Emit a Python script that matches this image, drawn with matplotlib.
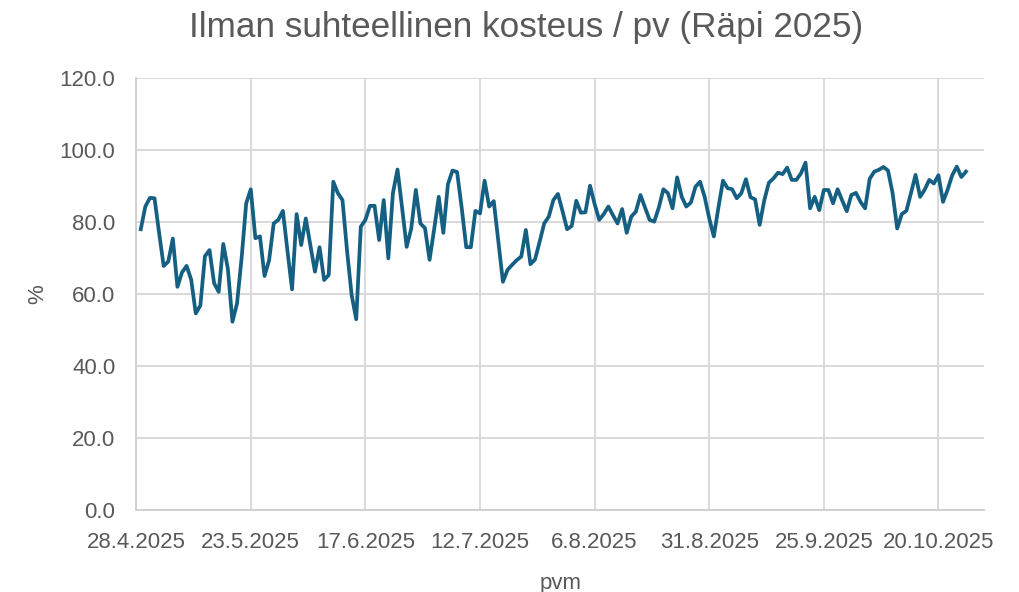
import matplotlib
matplotlib.use("Agg")
import matplotlib.pyplot as plt
import matplotlib.dates as mdates
import numpy as np
import datetime as dt

# ---- data ----
start_date = "2025-04-29"
humidity = [
    78.0, 84.3, 86.7, 86.6, 77.0, 67.8, 69.0, 75.4, 62.0, 66.0,
    67.8, 64.0, 54.6, 56.8, 70.5, 72.2, 63.0, 60.6, 73.9, 67.0,
    52.3, 57.4, 70.0, 85.2, 89.1, 75.5, 76.0, 65.0, 69.4, 79.6,
    80.6, 83.1, 72.0, 61.3, 82.2, 73.6, 81.0, 73.5, 66.2, 73.0,
    63.9, 65.3, 91.2, 88.0, 86.1, 72.0, 59.7, 53.0, 78.7, 80.6,
    84.5, 84.5, 75.0, 86.1, 69.9, 88.0, 94.6, 84.0, 73.1, 78.2,
    88.9, 79.6, 78.3, 69.5, 78.0, 87.0, 77.0, 90.5, 94.3, 93.9,
    84.0, 73.0, 73.0, 83.1, 82.4, 91.5, 84.3, 85.8, 74.5, 63.4,
    66.7, 68.1, 69.4, 70.4, 77.8, 68.3, 69.6, 74.5, 79.6, 81.5,
    86.1, 87.8, 83.0, 78.0, 78.9, 85.9, 82.6, 82.7, 90.1, 85.0,
    80.6, 82.2, 84.3, 81.9, 79.6, 83.6, 77.0, 81.5, 82.9, 87.5,
    84.0, 80.6, 80.1, 84.0, 89.1, 88.0, 83.8, 92.4, 87.0, 84.3,
    85.4, 89.8, 91.2, 87.0, 81.0, 76.0, 84.0, 91.5, 89.4, 89.1,
    86.6, 88.0, 91.9, 86.9, 86.3, 79.2, 86.0, 90.9, 92.1, 93.7,
    93.3, 95.1, 91.7, 91.7, 93.5, 96.5, 83.8, 87.0, 83.3, 88.9,
    88.9, 85.2, 89.1, 86.0, 83.0, 87.5, 88.1, 85.6, 83.8, 92.0,
    94.0, 94.5, 95.3, 94.3, 88.0, 78.2, 82.2, 83.1, 88.0, 93.1,
    87.0, 89.0, 91.7, 90.7, 93.0, 85.6, 89.0, 93.0, 95.4, 92.5,
    94.0,
]
tick_dates = ["2025-04-28", "2025-05-23", "2025-06-17", "2025-07-12",
              "2025-08-06", "2025-08-31", "2025-09-25", "2025-10-20"]
y_ticks = [0, 20, 40, 60, 80, 100, 120]
title = "Ilman suhteellinen kosteus / pv (Räpi 2025)"
x_label = "pvm"
y_label = "%"

# ---- figure ----
plt.rcParams['font.family'] = ['Liberation Sans', 'DejaVu Sans']
text_col = "#595959"
grid_col = "#d9d9d9"
line_col = "#156082"

dates = np.arange(np.datetime64(start_date), np.datetime64(start_date) + len(humidity))
dates = dates.astype("datetime64[D]").astype(dt.date)
ticks = [dt.date.fromisoformat(t) for t in tick_dates]

fig = plt.figure(figsize=(10.2, 5.92), dpi=100)
ax = fig.add_axes([0.1335, 0.1385, 0.8315, 0.7297])

ax.plot(dates, humidity, color=line_col, linewidth=2.7, solid_joinstyle="round")

x0 = dt.date.fromisoformat(tick_dates[0])
ax.set_xlim(mdates.date2num(x0), mdates.date2num(x0) + 185)
ax.set_ylim(0, 120)
ax.set_yticks(y_ticks)
ax.yaxis.set_major_formatter(matplotlib.ticker.FuncFormatter(lambda v, p: f"{v:.1f}"))
ax.set_xticks([mdates.date2num(t) for t in ticks])
ax.set_xticklabels([f"{t.day}.{t.month}.{t.year}" for t in ticks])

ax.grid(True, color=grid_col, linewidth=1.4)
ax.set_axisbelow(True)
for s in ["top", "right"]:
    ax.spines[s].set_visible(False)
for s in ["left", "bottom"]:
    ax.spines[s].set_color("#d0d0d0")
    ax.spines[s].set_linewidth(1.4)
ax.tick_params(axis="both", length=0, labelsize=16, labelcolor=text_col)
ax.tick_params(axis="y", pad=15)
ax.tick_params(axis="x", pad=16)

fig.text(0.516, 0.953, title, fontsize=25.3, color=text_col, ha="center", va="center")
ax.set_xlabel(x_label, fontsize=16, color=text_col, labelpad=14)
ax.set_ylabel(y_label, fontsize=16, color=text_col, labelpad=8)

fig.savefig("out.png", dpi=100, facecolor="white")
